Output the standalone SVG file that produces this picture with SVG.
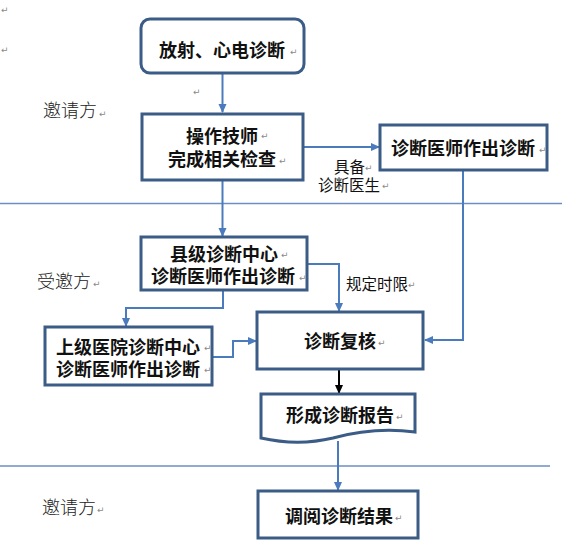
<svg xmlns="http://www.w3.org/2000/svg" width="562" height="551" viewBox="0 0 562 551">
<style>
.box{fill:#fff;stroke:#3b5c86;stroke-width:3}
.bt{font-family:"Noto Sans CJK SC","Noto Sans",sans-serif;font-size:18px;font-weight:700;fill:#111;text-anchor:middle}
.lb{font-family:"Noto Sans CJK SC","Noto Sans",sans-serif;font-size:18px;font-weight:300;fill:#222}
.sl{font-family:"Noto Sans CJK SC","Noto Sans",sans-serif;font-size:15.5px;font-weight:400;fill:#111}
.pm{font-family:"DejaVu Sans",sans-serif;font-size:9px;fill:#8a8a8a}
.sep{stroke:#6d8ec2;stroke-width:1.5;fill:none}
.cn{fill:none;stroke:#4a7bbd;stroke-width:2}
.cb{fill:none;stroke:#000;stroke-width:2}
</style>
<defs>
<marker id="ab" markerWidth="10" markerHeight="10" refX="8" refY="5" orient="auto" markerUnits="userSpaceOnUse">
<path d="M0,1 L9,5 L0,9 Z" fill="#4a7bbd"/>
</marker>
<marker id="ak" markerWidth="10" markerHeight="10" refX="8" refY="5" orient="auto" markerUnits="userSpaceOnUse">
<path d="M0,1 L9,5 L0,9 Z" fill="#000"/>
</marker>
</defs>
<rect width="562" height="551" fill="#fff"/>
<g id="separators">
<line class="sep" x1="0" y1="203.5" x2="562" y2="203.5"/>
<line class="sep" x1="0" y1="466" x2="550" y2="466"/>
</g>
<g id="lane-labels">
<text class="lb" x="43" y="117">邀请方</text>
<text class="lb" x="37" y="288">受邀方</text>
<text class="lb" x="42" y="514">邀请方</text>
</g>
<g id="connectors">
<path class="cn" d="M222.5,73 V112" marker-end="url(#ab)"/>
<path class="cn" d="M303,147 H379" marker-end="url(#ab)"/>
<path class="cn" d="M463,170 V340 H425" marker-end="url(#ab)"/>
<path class="cn" d="M222.5,180 V236" marker-end="url(#ab)"/>
<path class="cn" d="M223,290 V308 H126 V326" marker-end="url(#ab)"/>
<path class="cn" d="M212,357 H233 V341 H256" marker-end="url(#ab)"/>
<path class="cn" d="M307,264 H339 V311" marker-end="url(#ab)"/>
<path class="cb" d="M339,369 V393" marker-end="url(#ak)"/>
<path class="cn" d="M338,441 V490" marker-end="url(#ab)"/>
<text class="sl" x="334" y="173">具备</text>
<text class="sl" x="318" y="191">诊断医生</text>
<text class="sl" x="346" y="290">规定时限</text>
</g>
<g id="n1">
<rect class="box" x="141" y="19" width="163" height="54" rx="9"/>
<text class="bt" x="222" y="57">放射、心电诊断</text>
</g>
<g id="n2">
<rect class="box" x="142" y="114" width="161" height="66"/>
<text class="bt" x="222" y="143">操作技师</text>
<text class="bt" x="222" y="166">完成相关检查</text>
</g>
<g id="n3">
<rect class="box" x="380" y="125" width="167" height="45"/>
<text class="bt" x="463" y="155">诊断医师作出诊断</text>
</g>
<g id="n4">
<rect class="box" x="141" y="237" width="166" height="53"/>
<text class="bt" x="224" y="261">县级诊断中心</text>
<text class="bt" x="223" y="283">诊断医师作出诊断</text>
</g>
<g id="n5">
<rect class="box" x="45" y="327" width="167" height="58"/>
<text class="bt" x="128" y="354">上级医院诊断中心</text>
<text class="bt" x="128" y="376">诊断医师作出诊断</text>
</g>
<g id="n6">
<rect class="box" x="257" y="312" width="166" height="57"/>
<text class="bt" x="340" y="348">诊断复核</text>
</g>
<g id="n7">
<path class="box" d="M261,394 H415 V432 C385,428 355,432 333,438 C308,444 283,443 261,438 Z"/>
<text class="bt" x="340" y="422">形成诊断报告</text>
</g>
<g id="n8">
<rect class="box" x="258" y="491" width="160" height="47"/>
<text class="bt" x="339" y="523">调阅诊断结果</text>
</g>
<g id="para-marks">
<text class="pm" x="1" y="13">↵</text>
<text class="pm" x="1" y="53">↵</text>
<text class="pm" x="290" y="55">↵</text>
<text class="pm" x="193" y="95">↵</text>
<text class="pm" x="99" y="117">↵</text>
<text class="pm" x="261" y="139">↵</text>
<text class="pm" x="279" y="164">↵</text>
<text class="pm" x="539" y="153">↵</text>
<text class="pm" x="365" y="171">↵</text>
<text class="pm" x="382" y="189">↵</text>
<text class="pm" x="281" y="258">↵</text>
<text class="pm" x="299" y="281">↵</text>
<text class="pm" x="93" y="287">↵</text>
<text class="pm" x="204" y="351">↵</text>
<text class="pm" x="204" y="373">↵</text>
<text class="pm" x="408" y="288">↵</text>
<text class="pm" x="378" y="346">↵</text>
<text class="pm" x="396" y="420">↵</text>
<text class="pm" x="395" y="521">↵</text>
<text class="pm" x="97" y="513">↵</text>
</g>
</svg>
